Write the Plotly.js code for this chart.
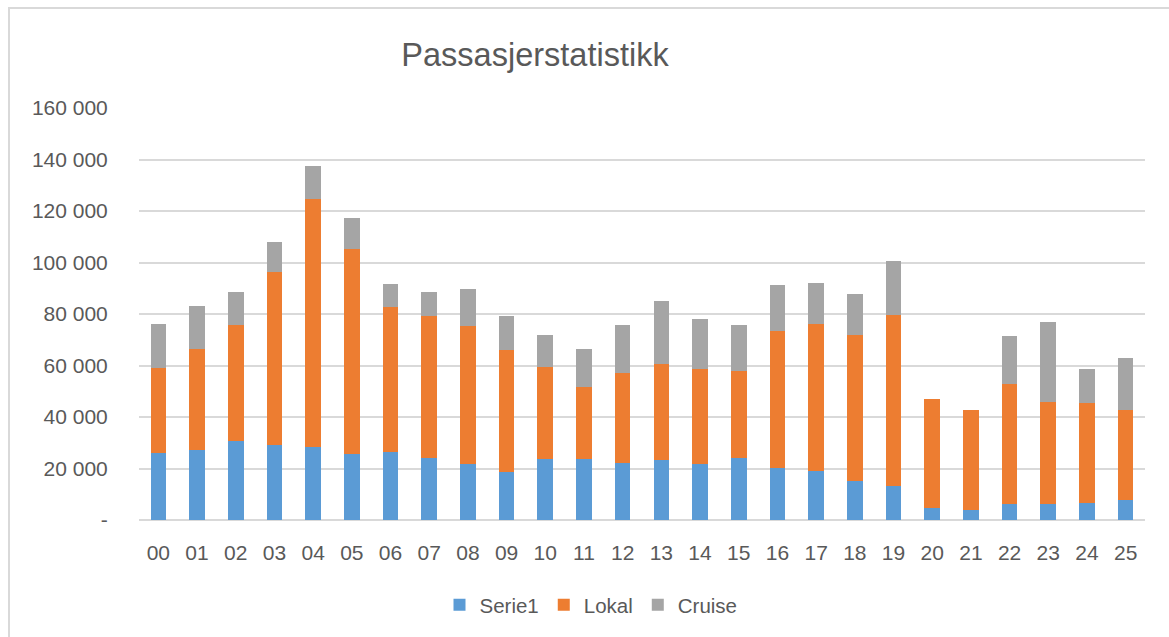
<!DOCTYPE html>
<html>
<head>
<meta charset="utf-8">
<script src="https://cdn.plot.ly/plotly-3.0.1.min.js"></script>
<style>
  html, body { margin: 0; padding: 0; background: #ffffff; overflow: hidden; }
  #frame { position: absolute; left: 8px; top: 7px; width: 1400px; height: 900px; border: 2px solid #d9d9d9; box-sizing: border-box; }
  #chart { position: absolute; left: 0; top: 0; width: 1169px; height: 637px; }
</style>
</head>
<body>
<div id="frame"></div>
<div id="chart"></div>
<script>
const categories = ["00","01","02","03","04","05","06","07","08","09","10","11","12","13","14","15","16","17","18","19","20","21","22","23","24","25"];
const serie1 = [26100,27200,30500,29100,28200,25700,26600,24200,21600,18800,23700,23700,22100,23200,21700,24200,20200,19100,15100,13200,4800,3700,6200,6200,6700,7800];
const lokal  = [32900,39200,45300,67100,96400,79500,56200,55100,53800,47200,35800,27800,34800,37200,36800,33700,53100,57200,56700,66600,42200,38900,46700,39700,38800,34800];
const cruise = [17300,16800,12900,11900,12900,12000,9000,9400,14400,13300,12300,14900,18900,24500,19400,17900,18000,15900,16000,20800,0,0,18400,30900,13000,20300];
const yTickVals = [0,20000,40000,60000,80000,100000,120000,140000,160000];
const yTickText = ["-","20 000","40 000","60 000","80 000","100 000","120 000","140 000","160 000"];
const seriesNames = ["Serie1","Lokal","Cruise"];
const seriesColors = ["#5b9bd5","#ed7d31","#a5a5a5"];

const font = "Liberation Sans, Arial, sans-serif";
const txt = "#595959";
const values = [serie1, lokal, cruise];
const data = values.map((v, i) => ({
  type: "bar",
  name: seriesNames[i],
  x: categories,
  y: v,
  marker: { color: seriesColors[i] },
  hoverinfo: "x+y+name"
}));

const layout = {
  width: 1169, height: 637,
  paper_bgcolor: "rgba(0,0,0,0)",
  plot_bgcolor: "rgba(0,0,0,0)",
  barmode: "stack",
  bargap: 0.595,
  margin: { l: 139, r: 24, t: 108, b: 117, pad: 0 },
  title: {
    text: "Passasjerstatistikk",
    font: { family: font, size: 32.5, color: txt },
    xref: "container", x: 535/1169, xanchor: "center",
    yref: "container", y: 1 - 55/637, yanchor: "middle"
  },
  xaxis: {
    type: "category",
    tickfont: { family: font, size: 21, color: txt },
    ticks: "outside", ticklen: 14, tickcolor: "rgba(0,0,0,0)",
    showline: false, showgrid: false, zeroline: false
  },
  yaxis: {
    range: [0, 160000],
    tickvals: yTickVals, ticktext: yTickText,
    tickfont: { family: font, size: 21, color: txt },
    ticks: "outside", ticklen: 26, tickcolor: "rgba(0,0,0,0)",
    showgrid: true, gridcolor: "#d9d9d9", gridwidth: 1.5,
    zeroline: true, zerolinecolor: "#d9d9d9", zerolinewidth: 1.5,
    showline: false
  },
  legend: {
    orientation: "h",
    xref: "container", x: 591/1169, xanchor: "center",
    yref: "container", y: 1 - 605/637, yanchor: "middle",
    font: { family: font, size: 20.5, color: txt },
    traceorder: "normal",
    itemwidth: 30
  },
  showlegend: true
};

Plotly.newPlot("chart", data, layout, { displayModeBar: false, staticPlot: false });
</script>
</body>
</html>
